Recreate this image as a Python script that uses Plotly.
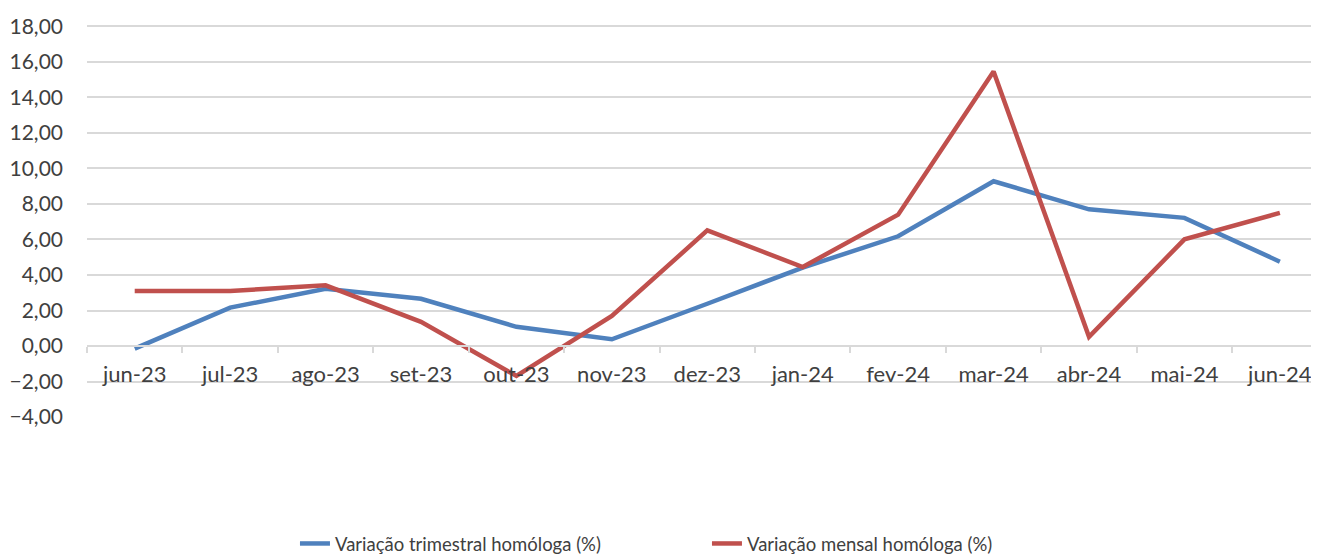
import plotly.graph_objects as go

categories = ["jun-23", "jul-23", "ago-23", "set-23", "out-23", "nov-23", "dez-23",
              "jan-24", "fev-24", "mar-24", "abr-24", "mai-24", "jun-24"]
trimestral = [-0.15, 2.16, 3.22, 2.66, 1.08, 0.38, 2.38, 4.42, 6.18, 9.28, 7.70, 7.22, 4.75]
mensal = [3.10, 3.10, 3.42, 1.36, -1.69, 1.69, 6.51, 4.45, 7.40, 15.46, 0.52, 6.01, 7.50]
y_ticks = [-4, -2, 0, 2, 4, 6, 8, 10, 12, 14, 16, 18]

FONT = "Lato"
TXT = "#404040"
GRID = "#d9d9d9"
Y_TOP = 18.14

fig = go.Figure()
fig.add_trace(go.Scatter(x=categories, y=trimestral, mode="lines",
                         name="Variação trimestral homóloga (%)",
                         line=dict(color="#4f81bd", width=4.5)))
fig.add_trace(go.Scatter(x=categories, y=mensal, mode="lines",
                         name="Variação mensal homóloga (%)",
                         line=dict(color="#c0504d", width=4.5)))

fig.update_layout(
    width=1311, height=548,
    margin=dict(l=79, r=0, t=15.6, b=139, autoexpand=False),
    paper_bgcolor="white", plot_bgcolor="white",
    separators=", ",
    font=dict(family=FONT, color=TXT, size=21),
    showlegend=True,
    legend=dict(orientation="h", x=0.1688, xanchor="left", y=-0.323, yanchor="middle",
                font=dict(family=FONT, size=18.5, color=TXT), entrywidth=367,
                bgcolor="rgba(0,0,0,0)"),
    xaxis=dict(type="category", range=[-0.5, 12.41], anchor="free", position=4/(Y_TOP + 4),
               tickson="boundaries", ticks="outside", ticklen=6, tickcolor=GRID, tickwidth=1.5,
               showline=True, linecolor=GRID, linewidth=1.5, showgrid=False, automargin=False,
               ticklabelstandoff=9, tickfont=dict(family=FONT, size=22, color=TXT)),
    yaxis=dict(range=[-4, Y_TOP], tickmode="array", tickvals=y_ticks, tickformat=".2f",
               showgrid=True, gridcolor=GRID, gridwidth=1.5, zeroline=False, automargin=False,
               showline=False, ticks="", ticklabelstandoff=23,
               tickfont=dict(family=FONT, size=21, color=TXT)),
)

fig.write_html("out.html")
